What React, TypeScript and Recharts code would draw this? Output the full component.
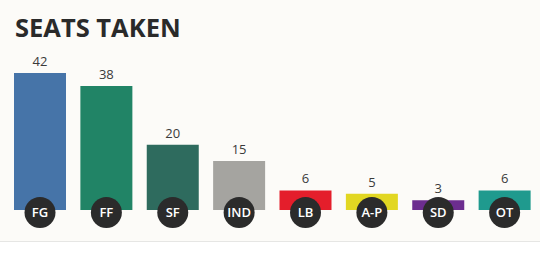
import { Bar, BarChart, Cell, LabelList, XAxis, YAxis } from "recharts";

const parties = ["FG", "FF", "SF", "IND", "LB", "A-P", "SD", "OT"];
const seats = [42, 38, 20, 15, 6, 5, 3, 6];
const colours = ["#4674a8", "#218466", "#2e6b5e", "#a5a4a0", "#e41e2b", "#e2d722", "#6c2d8f", "#1f9a8e"];

const data = parties.map((party, i) => ({ party, seats: seats[i] }));

const FONT = "'Open Sans', 'Noto Sans', sans-serif";

function Badge(props: any) {
  const { x, y, width, height, value } = props;
  const cx = x + width / 2;
  const cy = y + height + 2.5;
  return (
    <g>
      <circle cx={cx} cy={cy} r={15.5} fill="#2b2b2b" />
      <text
        x={cx}
        y={cy}
        dy={4.5}
        textAnchor="middle"
        fill="#ffffff"
        fontSize={13}
        fontWeight={600}
        fontFamily={FONT}
      >
        {value}
      </text>
    </g>
  );
}

export default function App() {
  return (
    <div style={{ width: 550, height: 272, position: "fixed", left: 0, top: 0, background: "#ffffff" }}>
      <div
        style={{
          position: "absolute",
          left: 0,
          top: 0,
          width: 540,
          height: 241,
          background: "#fcfbf8",
          borderBottom: "1px solid #e6e6e4",
        }}
      >
        <div
          style={{
            position: "absolute",
            left: 15,
            top: 10,
            fontFamily: FONT,
            fontSize: 25.5,
            fontWeight: 700,
            color: "#2a2a2a",
            lineHeight: "34px",
          }}
        >
          SEATS TAKEN
        </div>
        <div style={{ position: "absolute", left: 0, top: 0 }}>
          <BarChart width={540} height={241} data={data} margin={{ top: 73, right: 2, bottom: 31, left: 7 }}>
            <XAxis dataKey="party" hide />
            <YAxis hide domain={[0, 42]} />
            <Bar dataKey="seats" barSize={52} isAnimationActive={false}>
              {data.map((d, i) => (
                <Cell key={d.party} fill={colours[i]} />
              ))}
              <LabelList
                dataKey="seats"
                position="top"
                offset={7}
                fill="#3a3a3a"
                fontSize={13}
                fontFamily={FONT}
              />
              <LabelList dataKey="party" content={<Badge />} />
            </Bar>
          </BarChart>
        </div>
      </div>
    </div>
  );
}
